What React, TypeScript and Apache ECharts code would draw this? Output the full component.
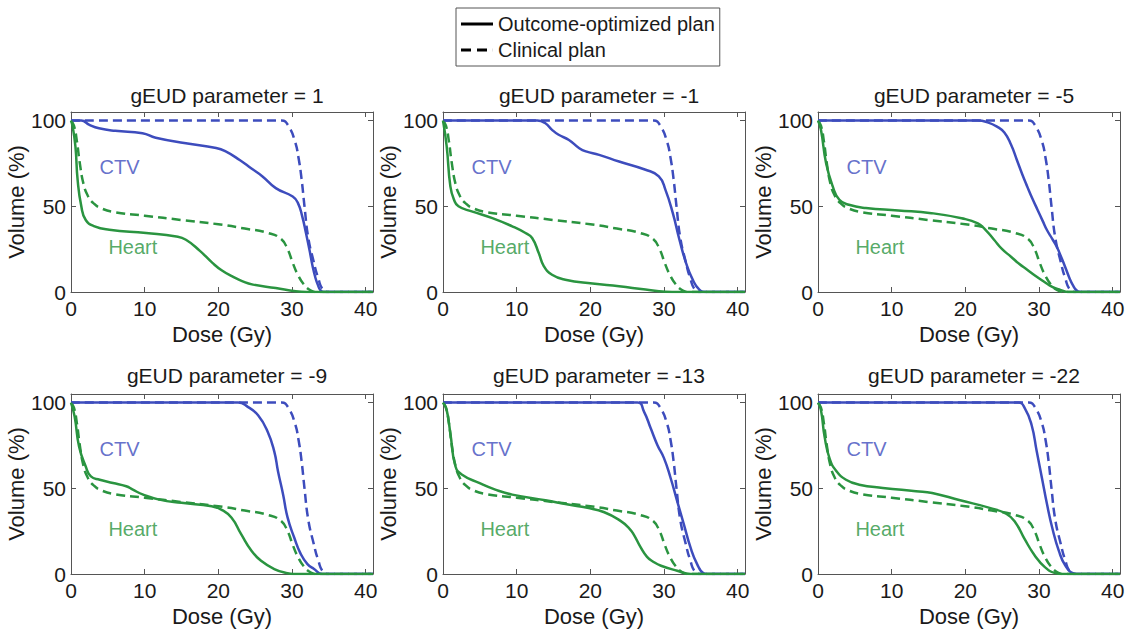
import React, { useEffect, useRef } from "react";
import * as echarts from "echarts";

const FONT = "'Liberation Sans', Arial, Helvetica, sans-serif";
const BLUE = "#3d4cbd";
const GREEN = "#2a9440";
const INK = "#1a1a1a";
const AXIS = "#555555";

const panelTitles = [
  "gEUD parameter = 1",
  "gEUD parameter = -1",
  "gEUD parameter = -5",
  "gEUD parameter = -9",
  "gEUD parameter = -13",
  "gEUD parameter = -22",
];

const doseTicks = [0, 10, 20, 30, 40];
const volumeTicks = [0, 50, 100];
const legendNames = ["Outcome-optimized plan", "Clinical plan"];

// Clinical plan (same for every panel)
const clinicalCTV = [[0,100],[28.6,100],[29.5,97],[30.4,88],[30.9,78],[31.3,66],[31.7,50],[32.2,32],[32.9,18.5],[33.6,7.5],[34.2,1.5],[35,0],[41,0]];
const clinicalHeart = [[0,100],[0.4,97],[0.8,88],[1.2,75],[1.7,63],[2.3,56],[3,52],[4,49],[6,46.5],[10,44.5],[15,42],[20,39.5],[23.6,37],[26.7,34.5],[28.5,31],[29.4,25],[30.1,17],[30.8,10],[31.6,4.5],[32.5,1],[33.3,0],[41,0]];

// Outcome-optimized plans
const optCTV_p1 = [[0,100],[1.4,100],[2.5,97.5],[3.8,95.5],[6,94],[9.7,92.6],[11.5,90],[15.6,86.8],[19.7,84],[21,82],[22.9,77],[24.5,72],[26,67.4],[27.8,60.6],[30.1,55.7],[30.8,52],[31.4,44],[31.9,34.4],[32.4,24],[32.8,15],[33.2,8],[33.5,4.3],[33.9,0.8],[34.3,0],[41,0]];
const optHeart_p1 = [[0,100],[0.2,97],[0.6,85],[0.9,65.4],[1.4,50],[2,42],[3.2,38.3],[5.2,36.3],[10.2,34.4],[14.3,32.4],[15.6,30.5],[17.5,24],[19.2,17],[20.5,12.5],[21.9,9.1],[23.3,6.2],[24.7,4.3],[27.8,2.3],[30.5,0.4],[32,0],[41,0]];

const optCTV_m1 = [[0,100],[12.8,100],[13.9,98.4],[14.8,94.6],[15.7,91.7],[17.1,88.7],[18.5,83.9],[19.4,82],[21.2,80],[23.9,76.1],[27.5,71.3],[29.3,67.4],[30.2,59.6],[31.2,46],[32.1,30.5],[33,16.9],[33.9,7.2],[34.8,1.4],[35.7,0],[41,0]];
const optHeart_m1 = [[0,100],[0.5,85],[1,61.6],[1.5,53.8],[2.1,50],[3.9,47],[6.7,43.1],[9.4,38.3],[11.2,34.4],[12.1,31.5],[13,22.7],[13.7,15],[14.8,10.1],[16.6,7.2],[20.3,4.9],[23.9,3.3],[27.5,1.4],[30.2,0.2],[32,0],[41,0]];

const optCTV_m5 = [[0,100],[21.7,100],[23,99],[24.3,96.5],[25.3,93],[26.2,86],[27,77],[27.7,69],[28.4,61.6],[29.1,54.5],[29.8,48],[30.5,41.5],[31.1,36],[31.8,31],[32.4,26.5],[33.1,19.5],[33.7,13],[34.2,7.5],[34.6,4],[35.1,1],[35.6,0],[41,0]];
const optHeart_m5 = [[0,100],[0.4,94.6],[1.1,75.1],[2,61.6],[2.9,53.8],[4.2,50.9],[6.5,49],[10.9,47.6],[15.4,46],[19.5,43],[21.7,40],[22.8,36],[23.9,30.5],[25,25],[26.2,20.6],[27.3,16.5],[28.4,13],[29.5,9.5],[30.7,6],[31.8,3],[32.9,1.2],[34,0],[41,0]];

const optCTV_m9 = [[0,100],[22.7,100],[24,97.5],[25.4,92.6],[26.7,83],[27.6,71.4],[28.1,60],[28.8,46.3],[29.4,33],[30.3,21.3],[31.2,11.6],[32.1,5.8],[33,2.9],[34.1,0],[41,0]];
const optHeart_m9 = [[0,100],[0.5,91.7],[1.1,74.3],[2,62.7],[2.7,56.9],[3.9,55],[5.7,53.1],[7.5,51.2],[8.4,49.2],[9.8,46.3],[12,43.4],[15,41.5],[19.1,39.5],[20.4,37.6],[21.8,32.8],[23.1,23.2],[24.5,13.5],[25.8,7.7],[27.6,2.9],[29.4,0.4],[30.2,0],[41,0]];

const optCTV_m13 = [[0,100],[26.4,100],[27.3,94.6],[28.2,85],[29.1,75.3],[30,67.6],[30.9,56],[31.8,42.4],[32.7,29],[33.6,15.5],[34.5,5.8],[35.4,0.4],[36,0],[41,0]];
const optHeart_m13 = [[0,100],[0.5,95.6],[1,82],[1.7,62.7],[2.6,57.9],[4.9,53.1],[7.1,49.2],[9.4,46.3],[13.9,43],[17,40.5],[19.6,38.6],[21.9,36],[24.1,31],[25.3,26.5],[25.9,23],[26.8,15.8],[27.7,10],[28.6,7],[29.6,4.8],[31.8,1.9],[33.6,0],[41,0]];

const optCTV_m22 = [[0,100],[27.2,100],[28.1,96.5],[29,86.9],[29.7,71.4],[30.4,56],[31.1,40.5],[31.8,27],[32.7,13.5],[33.6,4.8],[34.7,0.4],[35.3,0],[41,0]];
const optHeart_m22 = [[0,100],[0.4,95.6],[0.9,80],[1.6,67],[2.5,60],[3.8,55],[5.6,52.1],[8.8,50.2],[13.3,48.3],[15.5,47.3],[19.3,43],[23.3,38.6],[25.6,35],[26.8,30],[28.1,20],[29.4,11],[30.8,4],[32.2,0.5],[33,0],[41,0]];

const optimizedCTV = [optCTV_p1, optCTV_m1, optCTV_m5, optCTV_m9, optCTV_m13, optCTV_m22];
const optimizedHeart = [optHeart_p1, optHeart_m1, optHeart_m5, optHeart_m9, optHeart_m13, optHeart_m22];

const ctvLabelPos = [6.6, 73];
const heartLabelPos = [8.4, 26];

function buildOption() {
  const gridLefts = [71, 443, 818];
  const gridTops = [112, 394];
  const gw = 302;
  const gh = 180;
  const xMax = 41;
  const yMax = 105;

  const grid: any[] = [];
  const xAxis: any[] = [];
  const yAxis: any[] = [];
  const title: any[] = [];
  const series: any[] = [];

  const tickLabel = (ticks: number[]) => (v: number) =>
    ticks.indexOf(Math.round(v * 1000) / 1000) >= 0 ? String(v) : "";

  for (let i = 0; i < 6; i++) {
    const col = i % 3;
    const row = Math.floor(i / 3);
    const left = gridLefts[col];
    const top = gridTops[row];
    grid.push({ left, top, width: gw, height: gh, containLabel: false });
    title.push({
      text: panelTitles[i],
      left: left + gw / 2,
      top: row === 0 ? 80 : 360,
      textAlign: "center",
      textStyle: { fontSize: 21, fontWeight: "normal", color: INK, fontFamily: FONT },
    });
    const common = {
      type: "value",
      gridIndex: i,
      axisLine: { show: true, onZero: false, lineStyle: { color: AXIS, width: 1 } },
      axisTick: { show: true, inside: true, length: 5, lineStyle: { color: AXIS } },
      splitLine: { show: false },
    };
    xAxis.push({
      ...common,
      position: "bottom",
      min: 0,
      max: xMax,
      interval: 10,
      axisLabel: { formatter: tickLabel(doseTicks), fontSize: 21, color: INK, margin: 6, fontFamily: FONT },
      name: "Dose (Gy)",
      nameLocation: "middle",
      nameGap: 31,
      nameTextStyle: { fontSize: 22, color: INK, fontFamily: FONT },
    });
    xAxis.push({
      ...common,
      position: "top",
      min: 0,
      max: xMax,
      interval: 10,
      axisLabel: { show: false },
    });
    yAxis.push({
      ...common,
      position: "left",
      min: 0,
      max: yMax,
      interval: 50,
      axisLabel: { formatter: tickLabel(volumeTicks), fontSize: 21, color: INK, margin: 5, fontFamily: FONT },
      name: "Volume (%)",
      nameLocation: "middle",
      nameGap: 40,
      nameTextStyle: { fontSize: 22, color: INK, fontFamily: FONT },
    });
    yAxis.push({
      ...common,
      position: "right",
      min: 0,
      max: yMax,
      interval: 50,
      axisLabel: { show: false },
    });

    const xi = i * 2;
    const yi = i * 2;
    const lineBase = {
      type: "line",
      xAxisIndex: xi,
      yAxisIndex: yi,
      symbol: "none",
      smooth: 0.5,
      silent: true,
    };
    series.push({
      ...lineBase,
      name: "clin-ctv-" + i,
      data: clinicalCTV,
      lineStyle: { color: BLUE, width: 2.5, type: [9, 5] },
      z: 2,
    });
    series.push({
      ...lineBase,
      name: "clin-heart-" + i,
      data: clinicalHeart,
      lineStyle: { color: GREEN, width: 2.5, type: [9, 5] },
      z: 2,
    });
    series.push({
      ...lineBase,
      name: "opt-ctv-" + i,
      data: optimizedCTV[i],
      lineStyle: { color: BLUE, width: 2.5 },
      z: 3,
    });
    series.push({
      ...lineBase,
      name: "opt-heart-" + i,
      data: optimizedHeart[i],
      lineStyle: { color: GREEN, width: 2.5 },
      z: 3,
    });
    series.push({
      type: "scatter",
      xAxisIndex: xi,
      yAxisIndex: yi,
      silent: true,
      symbolSize: 1,
      itemStyle: { color: "rgba(0,0,0,0)" },
      data: [
        { value: ctvLabelPos, label: { show: true, position: "inside", formatter: "CTV", color: BLUE, fontSize: 20, fontFamily: FONT } },
        { value: heartLabelPos, label: { show: true, position: "inside", formatter: "Heart", color: GREEN, fontSize: 20, fontFamily: FONT } },
      ],
    });
  }

  series.push({
    type: "line",
    name: legendNames[0],
    xAxisIndex: 0,
    yAxisIndex: 0,
    data: [],
    symbol: "none",
    itemStyle: { color: "#000", borderWidth: 0 },
    lineStyle: { color: "#000", width: 2.5 },
  });
  series.push({
    type: "line",
    name: legendNames[1],
    xAxisIndex: 0,
    yAxisIndex: 0,
    data: [],
    symbol: "none",
    itemStyle: { color: "#000", borderWidth: 0 },
    lineStyle: { color: "#000", width: 2.5 },
  });

  return {
    animation: false,
    backgroundColor: "#ffffff",
    textStyle: { fontFamily: FONT },
    title,
    legend: {
      data: [
        { name: legendNames[0], icon: "path://M0,0H32V3H0Z" },
        { name: legendNames[1], icon: "path://M0,0H10V3H0Z M16,0H26V3H16Z M31.9,0H32V3H31.9Z" },
      ],
      orient: "vertical",
      left: 456,
      top: 8,
      itemWidth: 32,
      itemHeight: 3,
      itemGap: 6,
      padding: [6, 5, 6, 5],
      borderColor: AXIS,
      borderWidth: 1,
      selectedMode: false,
      textStyle: { fontSize: 20, color: INK, fontFamily: FONT },
    },
    grid,
    xAxis,
    yAxis,
    series,
  };
}

export default function App() {
  const ref = useRef<HTMLDivElement>(null);
  useEffect(() => {
    if (!ref.current) return;
    const chart = echarts.init(ref.current, null, { renderer: "svg" });
    chart.setOption(buildOption() as any);
    return () => chart.dispose();
  }, []);
  return (
    <div
      ref={ref}
      style={{ position: "absolute", left: 0, top: 0, width: 1128, height: 639, background: "#fff" }}
    />
  );
}
